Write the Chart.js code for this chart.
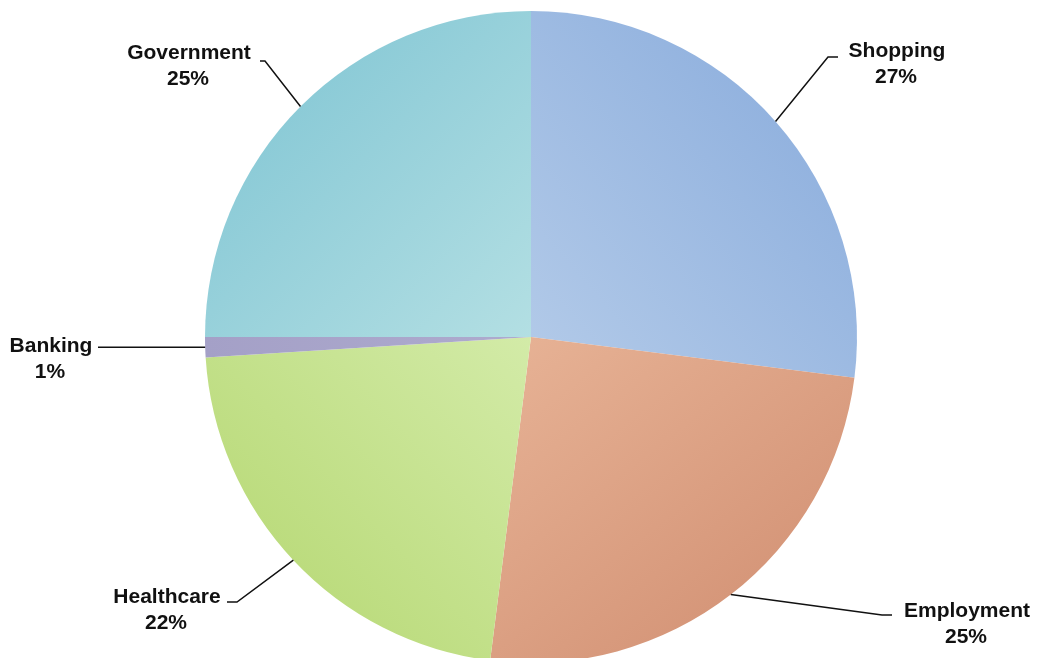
<!DOCTYPE html>
<html>
<head>
<meta charset="utf-8">
<script src="https://cdn.jsdelivr.net/npm/chart.js@4/dist/chart.umd.min.js"></script>
<style>
  html, body { margin: 0; padding: 0; background: #fff; overflow: hidden; }
  canvas { display: block; }
</style>
</head>
<body>
<canvas id="pieChart" width="1040" height="663"></canvas>
<script>
// Data
const categories = ["Shopping", "Employment", "Healthcare", "Banking", "Government"];
const shares = [27, 25, 22, 1, 25];

// Slice colours: light (near centre) and dark (near rim)
const lightColors = ["#b1c9e8", "#e6b194", "#d3eba8", "#aeabce", "#b3dfe3"];
const darkColors = ["#93b3df", "#d6977a", "#bcdc7e", "#a4a0c7", "#8ccbd7"];

// Label layout: elbow of the leader line, end of the short tail, text centre + first baseline
const labelLayout = [
  { elbow: [828, 57], tail: [838, 57], text: [897, 57] },
  { elbow: [882, 615], tail: [892, 615], text: [967, 617] },
  { elbow: [237, 602], tail: [227, 602], text: [167, 603] },
  { elbow: [120, 352], tail: [98, 352], text: [51, 352] },
  { elbow: [265, 61], tail: [260, 61], text: [189, 59] },
];

// gradient along each slice's middle direction, from the chart area geometry
function sliceFill(ctx) {
  const i = ctx.dataIndex;
  const chart = ctx.chart;
  const area = chart.chartArea;
  if (!area) return lightColors[i];
  const cx = (area.left + area.right) / 2;
  const cy = (area.top + area.bottom) / 2;
  const r = Math.min(area.width, area.height) / 2;
  const total = shares.reduce((a, b) => a + b, 0);
  const before = shares.slice(0, i).reduce((a, b) => a + b, 0);
  const mid = -Math.PI / 2 + (before + shares[i] / 2) / total * Math.PI * 2;
  const g = chart.ctx.createLinearGradient(
    cx, cy, cx + Math.cos(mid) * r, cy + Math.sin(mid) * r);
  g.addColorStop(0, lightColors[i]);
  g.addColorStop(1, darkColors[i]);
  return g;
}

const calloutPlugin = {
  id: "callouts",
  afterDraw(chart) {
    const ctx = chart.ctx;
    const meta = chart.getDatasetMeta(0);
    const total = shares.reduce((a, b) => a + b, 0);
    ctx.save();
    meta.data.forEach((arc, i) => {
      const { x, y, startAngle, endAngle, outerRadius } = arc.getProps(
        ["x", "y", "startAngle", "endAngle", "outerRadius"], true);
      const mid = (startAngle + endAngle) / 2;
      const sx = x + Math.cos(mid) * outerRadius;
      const sy = y + Math.sin(mid) * outerRadius;
      const lay = labelLayout[i];
      ctx.strokeStyle = "#111";
      ctx.lineWidth = 1.5;
      ctx.beginPath();
      ctx.moveTo(sx, sy);
      if (i === 3) {
        ctx.lineTo(lay.tail[0], sy);
      } else {
        ctx.lineTo(lay.elbow[0], lay.elbow[1]);
        ctx.lineTo(lay.tail[0], lay.tail[1]);
      }
      ctx.stroke();

      ctx.fillStyle = "#111";
      ctx.font = "bold 21px 'Liberation Sans', Arial, sans-serif";
      ctx.textAlign = "center";
      ctx.textBaseline = "alphabetic";
      ctx.fillText(categories[i], lay.text[0], lay.text[1]);
      const pct = Math.round(shares[i] / total * 100) + "%";
      ctx.fillText(pct, lay.text[0] - 1, lay.text[1] + 26);
    });
    ctx.restore();
  },
};

new Chart(document.getElementById("pieChart").getContext("2d"), {
  type: "pie",
  data: {
    labels: categories,
    datasets: [
      {
        data: shares,
        backgroundColor: sliceFill,
        borderWidth: 0,
      },
    ],
  },
  options: {
    responsive: false,
    animation: false,
    devicePixelRatio: 1,
    layout: { padding: { left: 205, right: 183, top: 11, bottom: 0 } },
    plugins: {
      legend: { display: false },
      tooltip: { enabled: false },
    },
  },
  plugins: [calloutPlugin],
});
</script>
</body>
</html>
